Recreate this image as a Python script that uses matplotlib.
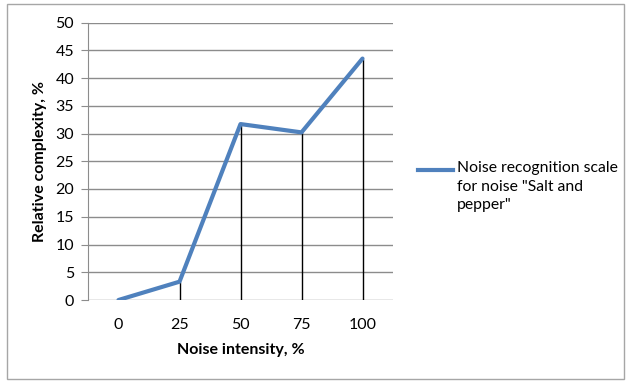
import matplotlib.pyplot as plt
from matplotlib.patches import Rectangle
from matplotlib.lines import Line2D

intensity = [0, 25, 50, 75, 100]
complexity = [0, 3.3, 31.7, 30.2, 43.5]
yticks = [0, 5, 10, 15, 20, 25, 30, 35, 40, 45, 50]
series_name = 'Noise recognition scale\nfor noise "Salt and\npepper"'

plt.rcParams['font.family'] = ['Lato', 'DejaVu Sans']

W, H = 628, 382
fig = plt.figure(figsize=(W / 100, H / 100), dpi=100)
fig.patches.append(Rectangle((7 / W, 3 / H), 617 / W, 375 / H, transform=fig.transFigure,
                             fill=False, edgecolor='#a6a6a6', linewidth=1))

ax = fig.add_axes([88 / W, 1 - 300 / H, 305 / W, 277.5 / H])
ax.set_xlim(-12.5, 112.5)
ax.set_ylim(0, 50)

# gridlines
for v in yticks:
    ax.axhline(v, color='#8c8c8c', linewidth=1, zorder=1)

# drop lines
ax.vlines(intensity, 0, complexity, color='black', linewidth=1, zorder=2)

line, = ax.plot(intensity, complexity, color='#4f81bd', linewidth=3,
                solid_capstyle='round', zorder=3)

for s in ['top', 'right', 'bottom']:
    ax.spines[s].set_visible(False)
ax.spines['left'].set_color('#8c8c8c')

ax.set_yticks(yticks)
ax.set_xticks(intensity)
ax.tick_params(axis='y', length=5, color='#8c8c8c', labelsize=11.5, pad=5)
ax.tick_params(axis='x', length=0, labelsize=11.5, pad=13)

ax.set_xlabel('Noise intensity, %', fontsize=11.5, fontweight='bold', labelpad=8)
ax.set_ylabel('Relative complexity, %', fontsize=11.5, fontweight='bold', labelpad=6)

# legend drawn by hand so the handle sits on the first text line
fig.add_artist(Line2D([418 / W, 453 / W], [1 - 170 / H, 1 - 170 / H], transform=fig.transFigure,
                      color=line.get_color(), linewidth=3))
fig.text(457 / W, 1 - 161 / H, series_name, fontsize=11.3, va='top', ha='left',
         linespacing=1.42)

fig.savefig('out.png', dpi=100)
